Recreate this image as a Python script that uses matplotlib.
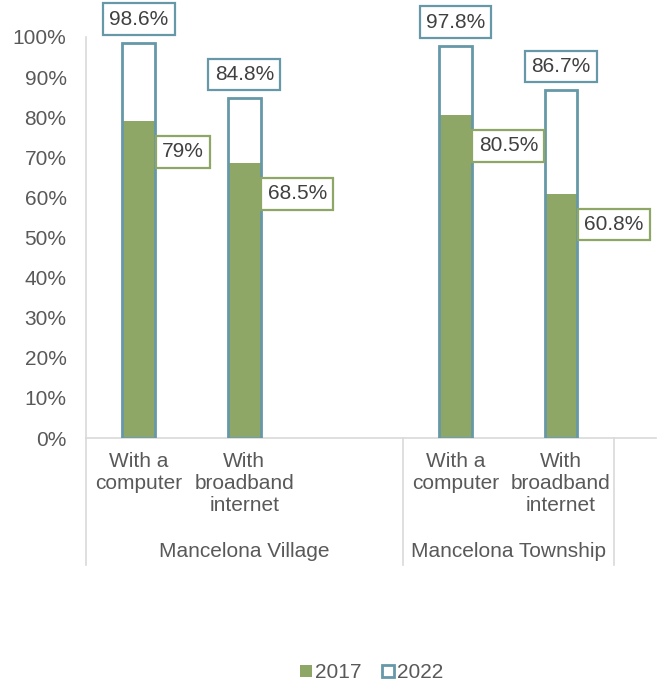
import matplotlib.pyplot as plt
from matplotlib.patches import Patch

plt.rcParams['font.family'] = ['Liberation Sans', 'DejaVu Sans']

# Data
groups = ["Mancelona Village", "Mancelona Township"]
categories = ["With a\ncomputer", "With\nbroadband\ninternet",
              "With a\ncomputer", "With\nbroadband\ninternet"]
values_2017 = [79, 68.5, 80.5, 60.8]
values_2022 = [98.6, 84.8, 97.8, 86.7]
labels_2017 = ["79%", "68.5%", "80.5%", "60.8%"]
labels_2022 = ["98.6%", "84.8%", "97.8%", "86.7%"]

green = "#8EA666"
teal = "#6698A8"
gray_txt = "#595959"
line_gray = "#D9D9D9"
fs = 15

xpos = [0, 1, 3, 4]      # slot 2 is an empty category in the first group
group_x = [1, 3.5]
width = 0.31

fig = plt.figure(figsize=(6.58, 6.83), dpi=100)
ax = fig.add_axes([86 / 658, 245 / 683, 570 / 658, 401 / 683])

# 2022 white fill behind, 2017 green in front, 2022 outline on top
ax.bar(xpos, values_2022, width, color="white", edgecolor="none", zorder=1)
ax.bar(xpos, values_2017, width, color=green, edgecolor="none", zorder=2)
ax.bar(xpos, values_2022, width, color="none", edgecolor=teal, linewidth=2, zorder=3)

for x, v, lab in zip(xpos, values_2022, labels_2022):
    ax.annotate(lab, (x, v), xytext=(0, 17), textcoords="offset points",
                ha="center", va="center", fontsize=fs, color="#404040",
                bbox=dict(boxstyle="square,pad=0.3", fc="white", ec=teal, lw=1.6),
                zorder=5)

for x, v, lab in zip(xpos, values_2017, labels_2017):
    ax.annotate(lab, (x + width / 2, v), xytext=(5, -22), textcoords="offset points",
                ha="left", va="center", fontsize=fs, color="#404040",
                bbox=dict(boxstyle="square,pad=0.3", fc="white", ec=green, lw=1.6),
                zorder=5)

ax.set_xlim(-0.5, 4.9)
ax.set_ylim(0, 100)
ax.set_yticks(range(0, 101, 10))
ax.set_yticklabels([f"{t}%" for t in range(0, 101, 10)])
ax.tick_params(axis="y", length=0, pad=14, labelsize=fs, labelcolor=gray_txt)

ax.set_xticks(xpos)
ax.set_xticklabels(categories, linespacing=1.2)
ax.tick_params(axis="x", length=0, pad=10, labelsize=fs, labelcolor=gray_txt)

for s in ["top", "right"]:
    ax.spines[s].set_visible(False)
ax.spines["left"].set_color(line_gray)
ax.spines["bottom"].set_color(line_gray)
ax.spines["left"].set_linewidth(1.2)
ax.spines["bottom"].set_linewidth(1.2)

# multi-level category axis: separators and group names
trans = ax.get_xaxis_transform()
for sx in [-0.5, 2.5, 4.5]:
    ax.plot([sx, sx], [0, -0.317], transform=trans, color=line_gray,
            lw=1.2, clip_on=False)
for gx, g in zip(group_x, groups):
    ax.text(gx, -0.282, g, transform=trans, ha="center", va="center",
            fontsize=fs, color=gray_txt)

handles = [Patch(facecolor=green, edgecolor="none", label="2017"),
           Patch(facecolor="white", edgecolor=teal, linewidth=2, label="2022")]
fig.legend(handles=handles, loc="center", bbox_to_anchor=(0.565, 0.015), ncol=2,
           frameon=False, fontsize=fs, labelcolor=gray_txt,
           handlelength=0.55, handleheight=0.55, handletextpad=0.15, columnspacing=1.0)

fig.savefig("out.png", dpi=100)
